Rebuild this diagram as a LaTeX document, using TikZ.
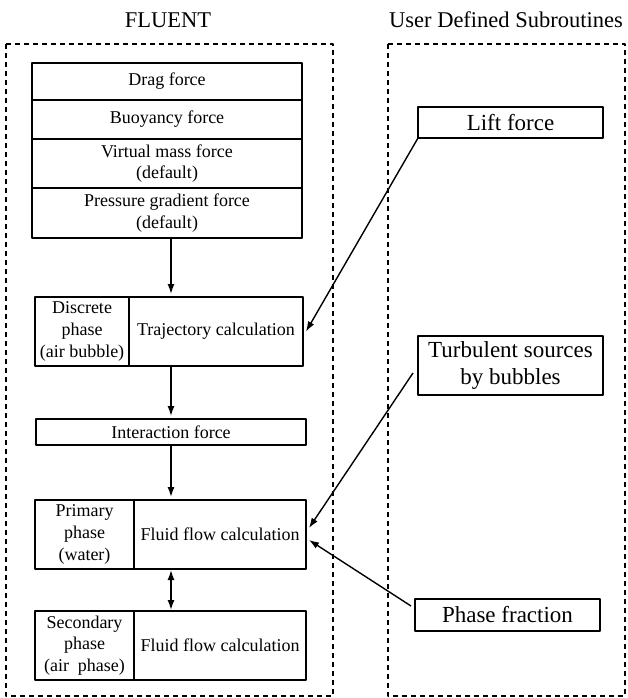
\documentclass[tikz,border=0pt]{standalone}
\usepackage{fontspec}
\setmainfont{Liberation Serif}
\usetikzlibrary{arrows.meta, positioning}
\tikzset{
	box/.style={draw, line width=1.2pt, inner sep=0pt, outer sep=0pt, align=center, font=\fontsize{18}{21.7}\selectfont},
	udsbox/.style={draw, line width=1.2pt, inner sep=0pt, outer sep=0pt, align=center, font=\fontsize{23}{27}\selectfont},
	frame/.style={draw, line width=1.4pt, dash pattern=on 5pt off 4pt},
	title/.style={font=\fontsize{22.5}{26}\selectfont},
	flow/.style={line width=1.4pt, -{Latex[length=10pt,width=7pt]}},
}

\begin{document}
\begin{tikzpicture}[x=1pt,y=-1pt,line join=round]
		\useasboundingbox (0,0) rectangle (627,698);
		% the two program parts
		\draw[frame] (6,44) rectangle (333,696);
		\draw[frame] (388,44) rectangle (625,696);
		\node[title] (fluent) at (168,20) {FLUENT};
		\node[title] (uds) at (506,20) {User Defined Subroutines};
		\coordinate (axis) at (171,0);

		% forces
		\foreach \name/\y/\h/\txt in {drag/81.5/37/{Drag force}, buoy/119.5/39/{Buoyancy force}, vmass/163.5/49/{Virtual mass force\\(default)}, press/213/50/{Pressure gradient force\\(default)}}
		{
			\node[box, minimum width=270pt, minimum height=\h pt] (\name) at (167,\y) {\txt};
		}

		% phases
		\node[box, minimum width=94pt, minimum height=69pt] (disc) at (82,331.5) {Discrete\\phase\\(air bubble)};
		\node[box, minimum width=174pt, minimum height=69pt, right=0pt of disc] (traj) {Trajectory calculation};
		\node[box, minimum width=270pt, minimum height=26pt] (inter) at (171,432) {Interaction force};
		\node[box, minimum width=99pt, minimum height=69pt] (prim) at (84.5,534.5) {Primary\\phase\\(water)};
		\node[box, minimum width=172pt, minimum height=69pt, right=0pt of prim] (flow1) {Fluid flow calculation};
		\node[box, minimum width=99pt, minimum height=69pt] (sec) at (84.5,645.5) {Secondary\\phase\\(air~~phase)};
		\node[box, minimum width=172pt, minimum height=69pt, right=0pt of sec] (flow2) {Fluid flow calculation};

		% subroutines
		\node[udsbox, minimum width=185pt, minimum height=31pt] (lift) at (510.5,122.5) {Lift force};
		\node[udsbox, minimum width=185pt, minimum height=59pt] (turb) at (510.5,365.5) {Turbulent sources\\by bubbles};
		\node[udsbox, minimum width=185pt, minimum height=32pt] (phase) at (507.5,615) {Phase fraction};

		\foreach \a/\b in {press/disc, disc/inter, inter/prim}
		{
			\draw[flow, shorten >=3pt] (\a.south -| axis) -- (\b.north -| axis);
		}
		\draw[flow, {Latex[length=10pt,width=7pt]}-{Latex[length=10pt,width=7pt]}, shorten <=1pt, shorten >=1pt] (prim.south -| axis) -- (sec.north -| axis);

		\draw[flow] (lift.south west) -- ([xshift=3pt]traj.east);
		\draw[flow] ([xshift=-5pt,yshift=-7.5pt]turb.west) -- ([xshift=3pt,yshift=6.5pt]flow1.east);
		\draw[flow] ([xshift=-4pt,yshift=9pt]phase.west) -- ([xshift=3pt,yshift=-5.5pt]flow1.east);
	\end{tikzpicture}
\end{document}
